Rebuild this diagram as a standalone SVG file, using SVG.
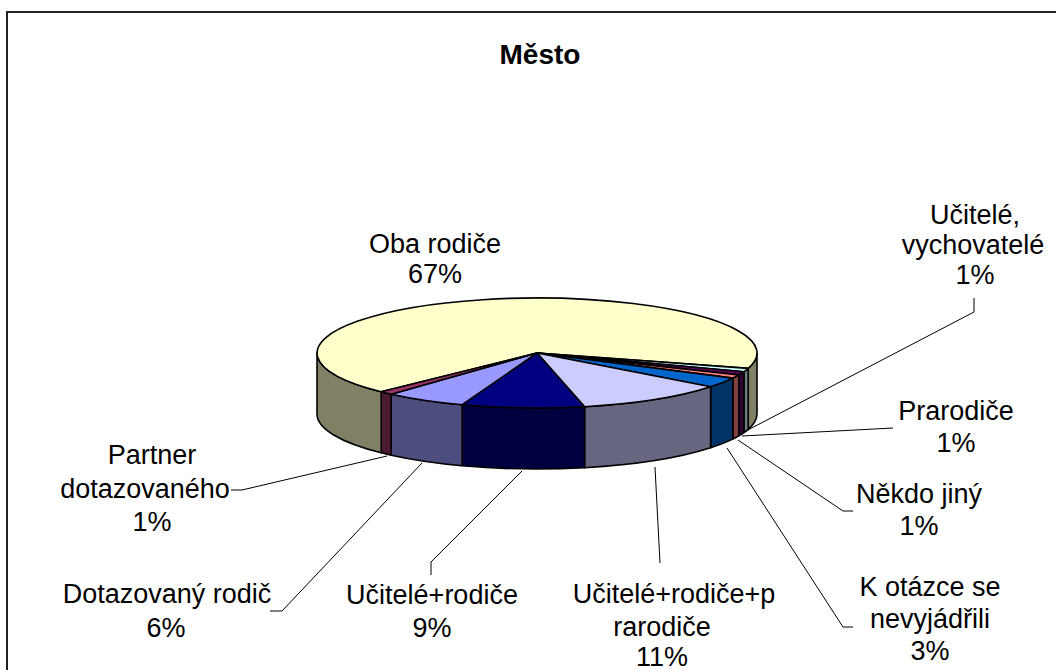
<svg xmlns="http://www.w3.org/2000/svg" width="1056" height="670" viewBox="0 0 1056 670">
<style>
.t{font-family:"Liberation Sans",Arial,sans-serif;font-size:27px;fill:#000;text-anchor:middle}
.ttl{font-family:"Liberation Sans",Arial,sans-serif;font-size:28px;font-weight:bold;fill:#000;text-anchor:middle}
.e{stroke:#000;stroke-width:1.6;stroke-linejoin:round}
.ld{fill:none;stroke:#000;stroke-width:1}
</style>
<rect x="0" y="0" width="1056" height="670" fill="#fff"/>
<rect x="7" y="12" width="1070" height="680" fill="#fff" stroke="#222" stroke-width="2"/>
<g id="title"><text class="ttl" x="540" y="64">Město</text></g>
<g id="pie-sides">
<path class="e" fill="#808066" d="M757,353 A220,55 0 0 1 748.2,368.4 L748.2,429.4 A220,55 0 0 0 757,414 Z"/>
<path class="e" fill="#668080" d="M748.2,368.4 A220,55 0 0 1 743.9,371.7 L743.9,432.7 A220,55 0 0 0 748.2,429.4 Z"/>
<path class="e" fill="#330033" d="M743.9,371.7 A220,55 0 0 1 738.8,374.9 L738.8,435.9 A220,55 0 0 0 743.9,432.7 Z"/>
<path class="e" fill="#804040" d="M738.8,374.9 A220,55 0 0 1 732.8,378.1 L732.8,439.1 A220,55 0 0 0 738.8,435.9 Z"/>
<path class="e" fill="#003366" d="M732.8,378.1 A220,55 0 0 1 710.6,386.8 L710.6,447.8 A220,55 0 0 0 732.8,439.1 Z"/>
<path class="e" fill="#666680" d="M710.6,386.8 A220,55 0 0 1 584.6,406.7 L584.6,467.7 A220,55 0 0 0 710.6,447.8 Z"/>
<path class="e" fill="#000040" d="M584.6,406.7 A220,55 0 0 1 462.1,404.7 L462.1,465.7 A220,55 0 0 0 584.6,467.7 Z"/>
<path class="e" fill="#4D4D80" d="M462.1,404.7 A220,55 0 0 1 391.2,394.2 L391.2,455.2 A220,55 0 0 0 462.1,465.7 Z"/>
<path class="e" fill="#4D1A33" d="M391.2,394.2 A220,55 0 0 1 381.2,391.8 L381.2,452.8 A220,55 0 0 0 391.2,455.2 Z"/>
<path class="e" fill="#808066" d="M381.2,391.8 A220,55 0 0 1 317,353 L317,414 A220,55 0 0 0 381.2,452.8 Z"/>
</g>
<g id="pie-top">
<path id="s-oba" class="e" fill="#FFFFCC" d="M537,353 L381.2,391.8 A220,55 0 1 1 748.2,368.4 Z"/>
<path id="s-ucvych" class="e" fill="#CCFFFF" d="M537,353 L748.2,368.4 A220,55 0 0 1 743.9,371.7 Z"/>
<path id="s-prar" class="e" fill="#660066" d="M537,353 L743.9,371.7 A220,55 0 0 1 738.8,374.9 Z"/>
<path id="s-jiny" class="e" fill="#FF8080" d="M537,353 L738.8,374.9 A220,55 0 0 1 732.8,378.1 Z"/>
<path id="s-kot" class="e" fill="#0066CC" d="M537,353 L732.8,378.1 A220,55 0 0 1 710.6,386.8 Z"/>
<path id="s-urp" class="e" fill="#CCCCFF" d="M537,353 L710.6,386.8 A220,55 0 0 1 584.6,406.7 Z"/>
<path id="s-ur" class="e" fill="#000080" d="M537,353 L584.6,406.7 A220,55 0 0 1 462.1,404.7 Z"/>
<path id="s-dot" class="e" fill="#9999FF" d="M537,353 L462.1,404.7 A220,55 0 0 1 391.2,394.2 Z"/>
<path id="s-part" class="e" fill="#993366" d="M537,353 L391.2,394.2 A220,55 0 0 1 381.2,391.8 Z"/>
</g>
<g id="connectors">
<polyline class="ld" points="974,298 974,312 744,432"/>
<polyline class="ld" points="893,428 742,436"/>
<polyline class="ld" points="853,511 843,511 738,440"/>
<polyline class="ld" points="853,627 843,627 727,448"/>
<polyline class="ld" points="660,563 655,467"/>
<polyline class="ld" points="431,575 431,562 522,471"/>
<polyline class="ld" points="270,611 282,611 422,463"/>
<polyline class="ld" points="231,490 242,490 387,456"/>
</g>
<g id="lbl-oba"><text class="t" x="435" y="253">Oba rodiče</text><text class="t" x="435" y="283">67%</text></g>
<g id="lbl-ucvych"><text class="t" x="975" y="224">Učitelé,</text><text class="t" x="973" y="254">vychovatelé</text><text class="t" x="975" y="284">1%</text></g>
<g id="lbl-prar"><text class="t" x="956" y="420">Prarodiče</text><text class="t" x="956" y="452">1%</text></g>
<g id="lbl-jiny"><text class="t" x="919" y="503">Někdo jiný</text><text class="t" x="919" y="535">1%</text></g>
<g id="lbl-kot"><text class="t" x="930" y="596">K otázce se</text><text class="t" x="930" y="628">nevyjádřili</text><text class="t" x="930" y="660">3%</text></g>
<g id="lbl-urp"><text class="t" x="674" y="603">Učitelé+rodiče+p</text><text class="t" x="662" y="636">rarodiče</text><text class="t" x="662" y="666">11%</text></g>
<g id="lbl-ur"><text class="t" x="432" y="604">Učitelé+rodiče</text><text class="t" x="432" y="637">9%</text></g>
<g id="lbl-dot"><text class="t" x="167" y="603">Dotazovaný rodič</text><text class="t" x="166" y="637">6%</text></g>
<g id="lbl-part"><text class="t" x="152" y="464">Partner</text><text class="t" x="145" y="498">dotazovaného</text><text class="t" x="152" y="531">1%</text></g>
</svg>
